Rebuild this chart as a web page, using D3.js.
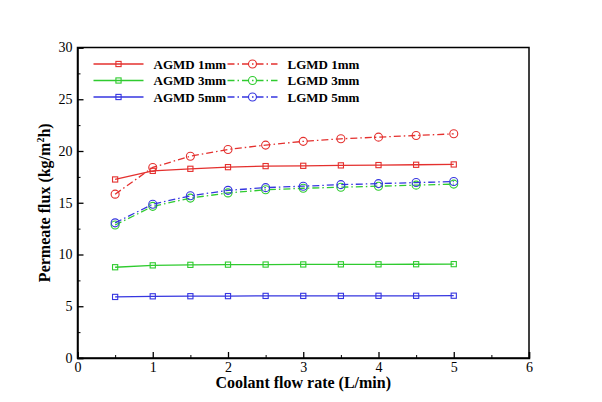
<!DOCTYPE html>
<html>
<head>
<meta charset="utf-8">
<script src="https://cdn.jsdelivr.net/npm/d3@7"></script>
<style>
  body { margin: 0; background: #fff; }
  text { font-family: "Liberation Serif", "Times New Roman", serif; fill: #000; }
  .tick text { font-size: 14px; }
  .axis-title { font-size: 16px; font-weight: bold; }
  .legend text { font-size: 13px; font-weight: bold; }
</style>
</head>
<body>
<div id="chart"></div>
<script>
// data
const flowRate = [0.5, 1, 1.5, 2, 2.5, 3, 3.5, 4, 4.5, 5];
const agmd1 = [17.25, 18.08, 18.28, 18.44, 18.54, 18.57, 18.61, 18.64, 18.67, 18.7];
const agmd3 = [8.77, 8.95, 9.0, 9.02, 9.03, 9.04, 9.05, 9.05, 9.06, 9.07];
const agmd5 = [5.9, 5.96, 5.97, 5.98, 6.0, 6.0, 6.0, 6.01, 6.01, 6.02];
const lgmd1 = [15.83, 18.41, 19.5, 20.15, 20.57, 20.93, 21.18, 21.34, 21.5, 21.66];
const lgmd3 = [12.85, 14.65, 15.45, 15.95, 16.25, 16.4, 16.5, 16.6, 16.7, 16.8];
const lgmd5 = [13.06, 14.86, 15.67, 16.2, 16.46, 16.6, 16.75, 16.85, 16.95, 17.05];
const xTicks = [0, 1, 2, 3, 4, 5, 6];
const yTicks = [0, 5, 10, 15, 20, 25, 30];

const red = "#e4302e", green = "#2fcb2f", blue = "#3636e0";

const series = [
    { name: "AGMD 1mm", values: agmd1, color: red, lgmd: false },
    { name: "AGMD 3mm", values: agmd3, color: green, lgmd: false },
    { name: "AGMD 5mm", values: agmd5, color: blue, lgmd: false },
    { name: "LGMD 1mm", values: lgmd1, color: red, lgmd: true },
    { name: "LGMD 3mm", values: lgmd3, color: green, lgmd: true },
    { name: "LGMD 5mm", values: lgmd5, color: blue, lgmd: true }
];

const margin = { top: 47.5, right: 73, bottom: 44, left: 77.5 };
const width = 602 - margin.left - margin.right;
const height = 402 - margin.top - margin.bottom;
const dash = "7,3,1.5,3";

const svg = d3.select("#chart")
    .append("svg")
    .attr("width", 602)
    .attr("height", 402)
    .append("g")
    .attr("transform", `translate(${margin.left},${margin.top})`);

const xScale = d3.scaleLinear().domain([0, 6]).range([0, width]);
const yScale = d3.scaleLinear().domain([0, 30]).range([height, 0]);

// minor ticks
svg.append("g")
    .attr("transform", `translate(0,${height})`)
    .call(d3.axisBottom(xScale).tickValues(d3.range(0.5, 6, 1)).tickSize(-3).tickFormat(""))
    .call(g => g.select(".domain").remove());
svg.append("g")
    .call(d3.axisLeft(yScale).tickValues(d3.range(2.5, 30, 5)).tickSize(-3).tickFormat(""))
    .call(g => g.select(".domain").remove());

// major axes
const xAxis = svg.append("g")
    .attr("transform", `translate(0,${height})`)
    .call(d3.axisBottom(xScale).tickValues(xTicks).tickSize(-6).tickPadding(4).tickFormat(d3.format("d")));
const yAxis = svg.append("g")
    .call(d3.axisLeft(yScale).tickValues(yTicks).tickSize(-6).tickPadding(5).tickFormat(d3.format("d")));
[xAxis, yAxis].forEach(a => {
    a.select(".domain").attr("stroke-width", 1.5);
    a.selectAll(".tick line").attr("stroke-width", 1.3);
});
svg.selectAll(".tick line").attr("stroke", "#000");

// frame top / right
svg.append("rect")
    .attr("width", width)
    .attr("height", height)
    .attr("fill", "none")
    .attr("stroke", "#000")
    .attr("stroke-width", 1.5);

const line = d3.line()
    .x((d, i) => xScale(flowRate[i]))
    .y(d => yScale(d));

function marker(g, s, x, y) {
    if (s.lgmd) {
        g.append("circle")
            .attr("cx", x).attr("cy", y).attr("r", 4)
            .attr("fill", "none").attr("stroke", s.color).attr("stroke-width", 1.1);
    } else {
        g.append("rect")
            .attr("x", x - 2.6).attr("y", y - 2.6).attr("width", 5.2).attr("height", 5.2)
            .attr("fill", "none").attr("stroke", s.color).attr("stroke-width", 1.1);
    }
}

series.forEach(s => {
    const g = svg.append("g");
    g.append("path")
        .attr("d", line(s.values))
        .attr("fill", "none")
        .attr("stroke", s.color)
        .attr("stroke-width", 1.3)
        .attr("stroke-dasharray", s.lgmd ? dash : null);
    s.values.forEach((v, i) => marker(g, s, xScale(flowRate[i]), yScale(v)));
});

// legend
const legend = svg.selectAll(".legend")
    .data(series)
    .enter()
    .append("g")
    .attr("class", "legend")
    .attr("transform", (d, i) => `translate(${(d.lgmd ? 150 : 16)}, ${(i % 3) * 16.5 + 16.5})`);

legend.append("line")
    .attr("x1", 0).attr("x2", 50)
    .attr("stroke", d => d.color)
    .attr("stroke-width", 1.3)
    .attr("stroke-dasharray", d => d.lgmd ? dash : null);
legend.each(function(d) { marker(d3.select(this), d, 25, 0); });
legend.append("text")
    .attr("x", 60)
    .attr("y", 4.5)
    .text(d => d.name);

// axis titles
svg.append("text")
    .attr("class", "axis-title")
    .attr("x", width / 2)
    .attr("y", height + 30)
    .attr("text-anchor", "middle")
    .text("Coolant flow rate (L/min)");

const yTitle = svg.append("text")
    .attr("class", "axis-title")
    .attr("transform", "rotate(-90)")
    .attr("x", -height / 2)
    .attr("y", -28)
    .attr("text-anchor", "middle");
yTitle.append("tspan").text("Permeate flux (kg/m");
yTitle.append("tspan").attr("font-size", "10px").attr("dy", -6).text("2");
yTitle.append("tspan").attr("dy", 6).text("h)");
</script>
</body>
</html>
